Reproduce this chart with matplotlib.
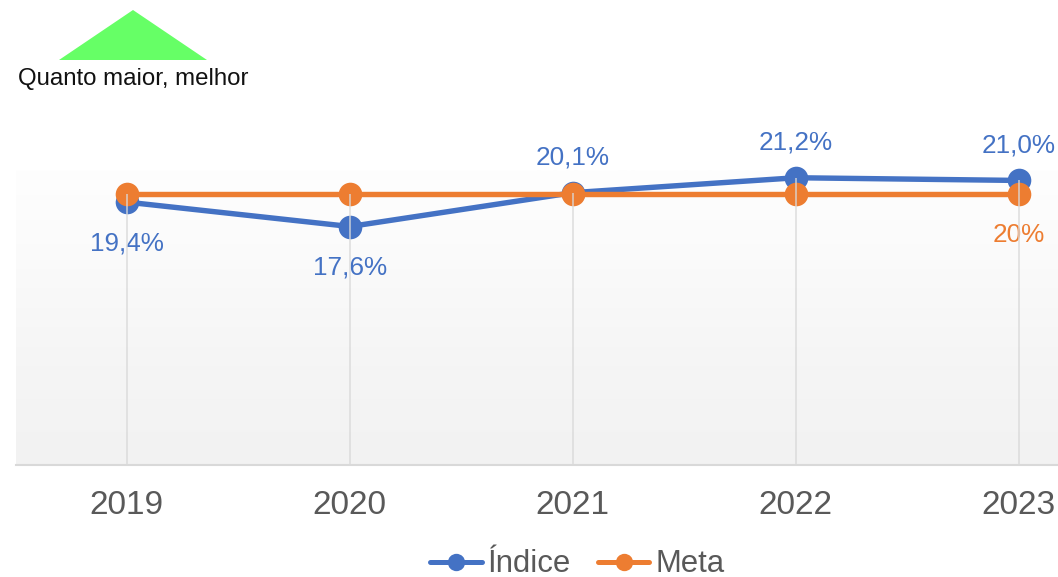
import numpy as np
import matplotlib
matplotlib.use("Agg")
import matplotlib.pyplot as plt
from matplotlib.lines import Line2D
from matplotlib.patches import Polygon
from matplotlib.transforms import ScaledTranslation

plt.rcParams['font.family'] = ['Liberation Sans', 'DejaVu Sans']

years = ['2019', '2020', '2021', '2022', '2023']
indice = [19.4, 17.6, 20.1, 21.2, 21.0]
meta = [20, 20, 20, 20, 20]
indice_labels = ['19,4%', '17,6%', '20,1%', '21,2%', '21,0%']
meta_label = '20%'
BLUE, ORANGE = '#4472C4', '#ED7D31'
W, H = 1058, 577

fig = plt.figure(figsize=(W / 100, H / 100), dpi=100, facecolor='white')
ax = fig.add_axes([15.5 / W, 1 - 465 / H, (W - 15.5) / W, 295 / H])
x = np.arange(len(years))

grad = np.linspace(0, 1, 256).reshape(-1, 1)
cmap = matplotlib.colors.LinearSegmentedColormap.from_list(
    'bg', ['#FEFEFE', '#FAFAFA', '#F5F5F5', '#F2F2F2'])
ax.imshow(grad, extent=(0, 1, 0, 1), transform=ax.transAxes, cmap=cmap,
          aspect='auto', zorder=0, origin='upper')

ax.plot(x, indice, color=BLUE, lw=3.9, marker='o', ms=17, mew=0, zorder=3, clip_on=False)
ax.plot(x, meta, color=ORANGE, lw=3.9, marker='o', ms=17, mew=0, zorder=4, clip_on=False)
tops = np.maximum(indice, meta)
ax.vlines(x, 0, tops, color='#D9D9D9', lw=1.4, alpha=0.7, zorder=5)

ax.set_xlim(-0.5, (W - 127) / 223)
ax.set_ylim(0, 295 / 13.55)
ax.set_yticks([])
ax.set_xticks(x, years)
ax.tick_params(axis='x', length=0, pad=18, labelsize=24, labelcolor='#595959')
shift = ScaledTranslation(-1 / 100, 0, fig.dpi_scale_trans)
for lab in ax.get_xticklabels():
    lab.set_transform(lab.get_transform() + shift)
for s in ['top', 'left', 'right']:
    ax.spines[s].set_visible(False)
ax.spines['bottom'].set_color('#D9D9D9')
ax.spines['bottom'].set_linewidth(1.5)

px = 0.72
for xi, v, lab in zip(x, indice, indice_labels):
    off = 41 if v < 20 else -35
    ax.annotate(lab, (xi, v), xytext=(0, -off * px), textcoords='offset points',
                ha='center', va='center', color=BLUE, fontsize=18.8, annotation_clip=False)
ax.annotate(meta_label, (x[-1], meta[-1]), xytext=(0, -41 * px), textcoords='offset points',
            ha='center', va='center', color=ORANGE, fontsize=18.8, annotation_clip=False)

handles = [Line2D([], [], color=BLUE, lw=3.6, marker='o', ms=12.5, mew=0, solid_capstyle='round'),
           Line2D([], [], color=ORANGE, lw=3.6, marker='o', ms=12.5, mew=0, solid_capstyle='round')]
fig.legend(handles, ['Índice', 'Meta'], loc='center', bbox_to_anchor=(577.5 / W, 1 - 564.5 / H),
           ncol=2, frameon=False, fontsize=22.4, labelcolor='#595959', handlelength=1.65,
           handletextpad=0.2, columnspacing=0.87, borderpad=0, borderaxespad=0)

fig.add_artist(Polygon([(133 / W, 1 - 10 / H), (59 / W, 1 - 60 / H), (207 / W, 1 - 60 / H)],
                       closed=True, transform=fig.transFigure, fc='#66FF66', ec='none'))
fig.text(18 / W, 1 - 79 / H, 'Quanto maior, melhor', ha='left', va='center',
         color='#111111', fontsize=17.3)

fig.savefig('out.png', dpi=100)
